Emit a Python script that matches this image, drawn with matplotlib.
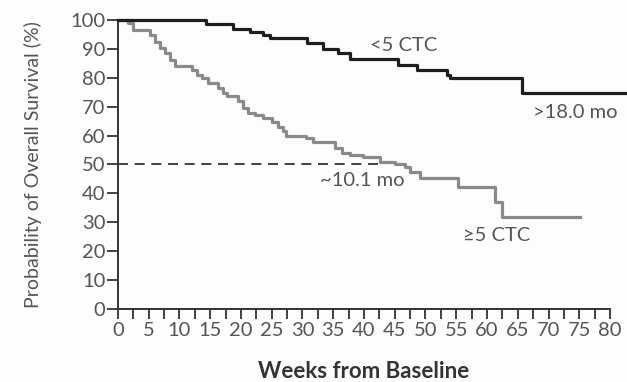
import matplotlib
matplotlib.use("Agg")
import matplotlib.pyplot as plt
from matplotlib.ticker import MultipleLocator

# <5 CTC group (black curve)
low_weeks = [0, 14.4, 18.7, 21.5, 23.6, 24.7, 30.7, 33.4, 35.8, 37.7, 45.5, 48.6, 53.5, 54.0, 65.7, 82.8]
low_surv = [100, 98.5, 97.0, 95.8, 94.8, 93.6, 92.0, 90.0, 88.5, 86.4, 84.4, 82.7, 81.0, 80.0, 74.6, 74.6]

# >=5 CTC group (gray curve)
high_weeks = [0, 1.7, 2.5, 5.2, 6.0, 6.8, 7.6, 8.5, 9.3, 12.0, 12.8, 13.6, 14.7, 16.3,
              17.1, 17.7, 19.6, 20.4, 21.2, 22.3, 23.6, 25.0, 26.1, 26.9, 27.4, 30.5,
              31.7, 35.3, 36.5, 37.7, 39.8, 42.6, 45.0, 46.7, 47.5, 49.1, 55.3, 61.3,
              62.4, 75.1]
high_surv = [100, 98.8, 96.5, 94.8, 92.5, 90.2, 88.5, 86.2, 83.9, 82.7, 81.0, 79.8, 78.1, 76.4,
             74.6, 73.7, 71.8, 69.4, 67.7, 67.1, 66.0, 64.8, 63.1, 61.4, 60.0, 59.3,
             57.6, 55.8, 54.0, 53.3, 52.6, 51.0, 50.2, 49.2, 47.4, 45.3, 42.2, 37.0,
             31.8, 31.8]

median_week = 43.0  # ~10.1 mo

x_ticks = list(range(0, 81, 5))
y_ticks = list(range(0, 101, 10))

plt.rcParams["font.family"] = ["Lato", "DejaVu Sans"]

fig = plt.figure(figsize=(6.27, 3.82), dpi=100, facecolor="#fefcfe")
ax = fig.add_axes([0.188, 0.191, 0.785, 0.757])
ax.set_facecolor("#fefcfe")

ax.step(high_weeks, high_surv, where="post", color="#8a8a8a", lw=2.3, clip_on=False, zorder=3)
ax.step(low_weeks, low_surv, where="post", color="#1e1e1e", lw=2.3, clip_on=False, zorder=4)
ax.plot([0, median_week], [50, 50], color="#222222", lw=1.2, dashes=(6, 4), zorder=2)

ax.set_xlim(0, 80)
ax.set_ylim(0, 100)
ax.set_xticks(x_ticks)
ax.set_yticks(y_ticks)
ax.xaxis.set_minor_locator(MultipleLocator(2.5))

for side in ["top", "right"]:
    ax.spines[side].set_visible(False)
for side in ["left", "bottom"]:
    ax.spines[side].set_color("#333333")
    ax.spines[side].set_linewidth(1.4)

ax.tick_params(axis="both", which="both", direction="out", color="#333333", width=1.3,
               labelcolor="#555555", labelsize=14.5)
ax.tick_params(axis="x", which="both", length=7, pad=2)
ax.tick_params(axis="y", length=8, pad=1)

ax.set_ylabel("Probability of Overall Survival (%)", fontsize=14, color="#555555", labelpad=20)
ax.set_xlabel("Weeks from Baseline", fontsize=16, color="#333333", fontweight="bold", labelpad=16)

ax.text(40.9, 91.3, "<5 CTC", fontsize=14.5, color="#555555", va="center", ha="left")
ax.text(67.5, 67.8, ">18.0 mo", fontsize=14.5, color="#555555", va="center", ha="left", clip_on=False)
ax.text(32.8, 44.6, "~10.1 mo", fontsize=14.5, color="#555555", va="center", ha="left")
ax.text(56.1, 25.6, "\u22655 CTC", fontsize=14.5, color="#555555", va="center", ha="left")

fig.savefig("out.png", dpi=100, facecolor=fig.get_facecolor())
